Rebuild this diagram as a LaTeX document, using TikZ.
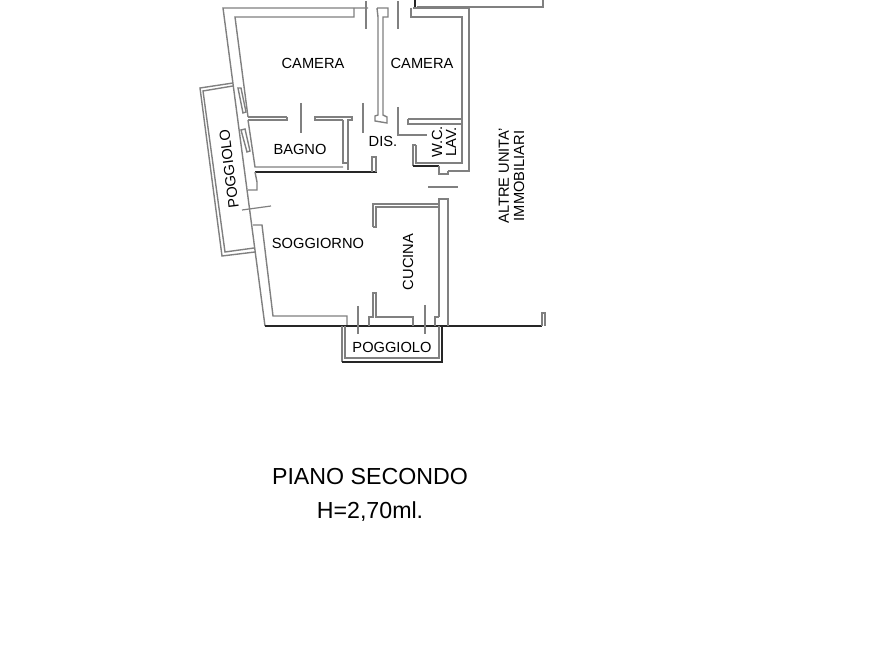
\documentclass[tikz,border=0pt]{standalone}
\usepackage{fontspec}
\setmainfont{Liberation Sans}
\begin{document}
\tikzset{
    wall/.style={color=black!50, line width=1.05pt},
    darkwall/.style={color=black!85, line width=1.1pt},
    tick/.style={color=black!50, line width=0.9pt},
    room/.style={inner sep=0pt, font=\fontsize{11}{11}\selectfont, color=black},
    title/.style={inner sep=0pt, font=\fontsize{17.4}{17.4}\selectfont, color=black}
}
\begin{tikzpicture}[x=0.75pt, y=-0.75pt]
    \useasboundingbox (0, 0) rectangle (893, 670);
    % outer walls
    \draw[wall] (368, 8) -- (223, 8) -- (265, 326);
    \draw[wall] (354, 8) -- (354, 17) -- (235, 17) -- (248, 117);
    \draw[wall] (248, 120) -- (255, 167) -- (343, 167);
    \draw[darkwall] (255, 172) -- (377, 172);
    \draw[wall] (255, 172) -- (257, 182) -- (257, 190) -- (248, 190);
    \draw[wall] (253, 225) -- (262, 225) -- (273, 316) -- (347, 316) -- (347, 326);
    \draw[darkwall] (265, 326) -- (542, 326);
    \draw[wall] (542, 326) -- (542, 313) -- (545, 313) -- (545, 326);
    \draw[darkwall] (415, 0) -- (415, 8);
    \draw[wall] (417, 7) -- (543, 7) -- (543, 0);
    \draw[wall] (413, 8) -- (469, 8) -- (469, 171) -- (448, 171);
    % camera walls
    \draw[wall] (411, 8) -- (411, 17) -- (462, 17) -- (462, 163) -- (439, 163);
    \draw[wall] (287, 117) -- (248, 117);
    \draw[wall] (248, 120) -- (287, 120) -- (287, 117);
    \draw[wall] (343, 120) -- (315, 120) -- (315, 117) -- (352, 117) -- (352, 120) -- (348, 120) -- (348, 170);
    \draw[wall] (343, 120) -- (343, 163) -- (347, 163);
    \draw[wall] (377, 8) -- (388, 8) -- (388, 17) -- (383, 17) -- (383, 115) -- (387, 117) -- (387, 123) -- (375, 121) -- (375, 116) -- (378, 115) -- (378, 17) -- (377, 8);
    \draw[wall] (408, 119) -- (462, 119);
    \draw[wall] (408, 119) -- (408, 124) -- (462, 124);
    \draw[wall] (398, 107) -- (398, 135) -- (427, 135);
    \draw[wall] (416, 145) -- (413, 145) -- (413, 166);
    \draw[wall] (416, 145) -- (416, 163) -- (439, 163);
    \draw[darkwall] (413, 166) -- (439, 166);
    \draw[wall] (439, 166) -- (439, 174) -- (448, 174) -- (448, 171);
    \draw[wall] (372, 172) -- (372, 157) -- (376, 157) -- (376, 172);
    % cucina
    \draw[wall] (373, 227) -- (373, 204) -- (439, 204);
    \draw[wall] (373, 227) -- (376, 227) -- (376, 207) -- (439, 207);
    \draw[wall] (439, 317) -- (439, 199) -- (448, 199) -- (448, 326);
    \draw[wall] (369, 326) -- (369, 317) -- (373, 317) -- (373, 293) -- (376, 293) -- (376, 317) -- (413, 317) -- (413, 326);
    \draw[wall] (435, 326) -- (435, 317) -- (439, 317);
    % poggiolo sotto
    \draw[wall, line width=1.2pt] (342, 326) -- (342, 362);
    \draw[wall] (345, 326) -- (345, 358) -- (439, 358) -- (439, 326);
    \draw[darkwall] (342, 362) -- (442, 362) -- (442, 326);
    % poggiolo lato
    \draw[wall] (233, 83) -- (200, 88) -- (222, 256) -- (255, 252);
    \draw[wall] (233, 86) -- (203, 91) -- (225, 252) -- (254, 248);
    % finestre
    \draw[wall] (238, 88) -- (243, 113) -- (246, 112) -- (241, 88) -- cycle;
    \draw[wall] (241, 130) -- (247, 152) -- (250, 151) -- (245, 129) -- cycle;
    % porte
    \draw[tick] (301, 103) -- (301, 133);
    \draw[tick] (363, 103) -- (363, 133);
    \draw[tick] (366, 1) -- (366, 29);
    \draw[tick] (398, 1) -- (398, 29);
    \draw[tick] (428, 187) -- (458, 187);
    \draw[tick] (358, 306) -- (358, 334);
    \draw[tick] (425, 305) -- (425, 334);
    \draw[tick] (242, 210) -- (271, 206);
    % testi
    \node[room] (camerasx) at (313, 63) {CAMERA};
    \node[room] (cameradx) at (422, 63) {CAMERA};
    \node[room] (bagno) at (300, 149) {BAGNO};
    \node[room] (dis) at (383, 141) {DIS.};
    \node[room, rotate=90] (wc) at (437, 142) {W.C.};
    \node[room, rotate=90] (lav) at (451, 142) {LAV.};
    \node[room, rotate=97] (poggiololato) at (229, 169) {POGGIOLO};
    \node[room] (soggiorno) at (318, 243) {SOGGIORNO};
    \node[room, rotate=90] (cucina) at (408, 262) {CUCINA};
    \node[room] (poggiolosotto) at (392, 347) {POGGIOLO};
    \node[room, rotate=90] (altre) at (504, 176) {ALTRE UNITA'};
    \node[room, rotate=90] (immobiliari) at (519, 176) {IMMOBILIARI};
    \node[title] (piano) at (370, 477) {PIANO SECONDO};
    \node[title] (altezza) at (370, 512) {H=2,70ml.};
\end{tikzpicture}
\end{document}
